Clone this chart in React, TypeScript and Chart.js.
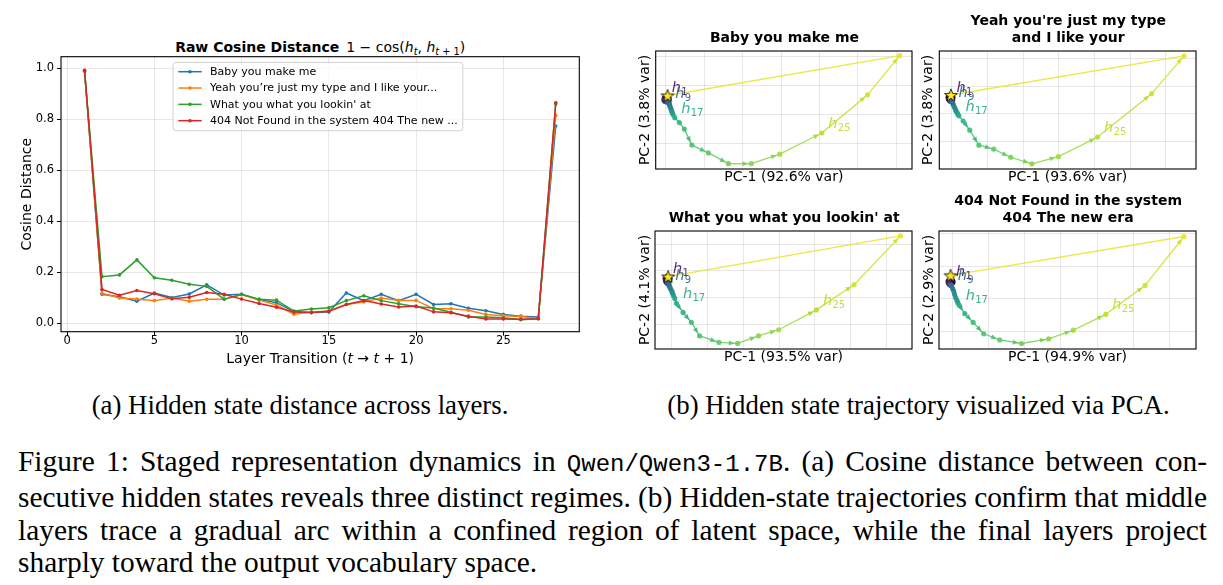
import React, { useEffect, useLayoutEffect, useRef } from "react";
import { Chart, registerables } from "chart.js";

Chart.register(...registerables);

const SANS = '"DejaVu Sans", sans-serif';
const SERIF = '"Liberation Serif", "Times New Roman", serif';
const MONO = '"Liberation Mono", "DejaVu Sans Mono", monospace';

Chart.defaults.font.family = SANS;
Chart.defaults.color = "#000";

// ---------------- (a) cosine distance between consecutive layers ----------------
const layerTransitions = [1, 2, 3, 4, 5, 6, 7, 8, 9, 10, 11, 12, 13, 14, 15, 16, 17, 18, 19, 20, 21, 22, 23, 24, 25, 26, 27, 28];
const distXTicks = [0, 5, 10, 15, 20, 25];
const distYTicks = [0, 0.2, 0.4, 0.6, 0.8, 1.0];

const seriesNames = [
  "Baby you make me",
  "Yeah you\u2019re just my type and I like your...",
  "What you what you lookin' at",
  "404 Not Found in the system 404 The new ...",
];
const seriesColors = ["#1f77b4", "#ff7f0e", "#2ca02c", "#d62728"];

const babyDistance = [0.99, 0.113, 0.103, 0.086, 0.118, 0.1, 0.114, 0.15, 0.11, 0.113, 0.093, 0.08, 0.045, 0.041, 0.043, 0.118, 0.088, 0.113, 0.088, 0.113, 0.073, 0.076, 0.058, 0.048, 0.034, 0.027, 0.024, 0.774];
const yeahDistance = [0.99, 0.117, 0.098, 0.094, 0.088, 0.098, 0.086, 0.093, 0.093, 0.111, 0.09, 0.071, 0.035, 0.043, 0.047, 0.073, 0.083, 0.098, 0.089, 0.089, 0.056, 0.056, 0.05, 0.034, 0.029, 0.026, 0.018, 0.815];
const whatDistance = [0.99, 0.182, 0.189, 0.248, 0.178, 0.168, 0.152, 0.144, 0.094, 0.113, 0.093, 0.09, 0.047, 0.055, 0.06, 0.088, 0.107, 0.088, 0.076, 0.064, 0.059, 0.042, 0.024, 0.024, 0.021, 0.013, 0.017, 0.86];
const notFoundDistance = [0.993, 0.132, 0.109, 0.128, 0.115, 0.095, 0.101, 0.12, 0.113, 0.094, 0.077, 0.062, 0.043, 0.041, 0.046, 0.073, 0.088, 0.075, 0.063, 0.067, 0.044, 0.04, 0.027, 0.016, 0.016, 0.015, 0.017, 0.865];

// ---------------- (b) PCA trajectories of hidden states h0 ... h28 ----------------
const labelledLayers = [1, 9, 17, 25];
const pcGridX = [-20, 0, 20, 40, 60, 80, 100];
const pcGridY = [-5, 0, 5, 10];

const babyPc1 = [-19.5, -20.2, -20.5, -20.9, -20.7, -20.3, -19.8, -19.3, -18.8, -18.4, -18.1, -17.9, -17.6, -17.2, -16.9, -16.6, -16.2, -15.3, -12.9, -10.3, -6.4, 2.2, 12.6, 24.5, 39.3, 61.2, 85.0, 101.7, -19.0];
const babyPc2 = [2.72, 2.94, 2.66, 2.49, 2.38, 2.26, 2.21, 2.15, 2.09, 1.98, 1.81, 1.53, 1.25, 0.91, 0.57, 0.28, 0.0, -0.57, -1.42, -2.55, -5.32, -6.68, -8.55, -8.55, -6.9, -3.23, 3.4, 10.19, 3.28];

const yeahPc1 = [-20.7, -21.0, -21.4, -21.6, -21.4, -21.0, -20.7, -20.3, -20.1, -19.9, -19.5, -19.0, -18.6, -18.0, -17.7, -17.1, -16.7, -16.0, -13.6, -9.9, -4.8, 3.5, 13.0, 24.9, 39.8, 61.8, 92.1, 110.3, -20.5];
const yeahPc2 = [2.94, 3.06, 2.76, 2.59, 2.47, 2.35, 2.29, 2.35, 2.24, 2.18, 1.94, 1.59, 1.24, 0.88, 0.59, 0.24, 0.0, -0.35, -1.29, -2.94, -5.65, -6.35, -7.82, -9.0, -7.71, -4.18, 3.65, 10.47, 3.41];

const whatPc1 = [-21.9, -22.5, -22.9, -23.0, -22.9, -22.5, -22.1, -21.8, -21.4, -21.2, -21.0, -20.6, -20.1, -19.5, -19.2, -18.6, -17.9, -17.0, -13.3, -8.7, -4.1, 6.6, 17.0, 28.6, 39.8, 60.8, 81.7, 107.5, -21.6];
const whatPc2 = [3.52, 3.77, 3.46, 3.22, 3.04, 2.86, 2.73, 2.67, 2.55, 2.43, 2.25, 1.94, 1.58, 1.22, 0.85, 0.43, -0.12, -1.03, -2.73, -4.56, -7.11, -8.32, -8.51, -7.11, -5.95, -2.25, 2.43, 11.54, 3.95];

const notFoundPc1 = [-21.1, -21.7, -22.0, -22.2, -22.0, -21.7, -21.3, -21.1, -20.9, -20.7, -20.6, -20.0, -19.4, -18.9, -18.3, -17.6, -17.1, -16.3, -13.2, -8.6, -2.8, 6.1, 18.2, 33.2, 46.8, 64.8, 86.5, 108.1, -21.1];
const notFoundPc2 = [2.6, 2.8, 2.6, 2.45, 2.3, 2.2, 2.15, 2.1, 2.05, 2.05, 2.0, 1.6, 1.2, 0.7, 0.2, -0.25, -0.6, -1.0, -2.3, -3.65, -5.4, -6.35, -6.9, -6.2, -4.85, -2.4, 2.05, 9.6, 3.6];

const panelTitles = [
  ["Baby you make me"],
  ["Yeah you're just my type", "and I like your"],
  ["What you what you lookin' at"],
  ["404 Not Found in the system", "404 The new era"],
];
const pc1Labels = ["PC-1 (92.6% var)", "PC-1 (93.6% var)", "PC-1 (93.5% var)", "PC-1 (94.9% var)"];
const pc2Labels = ["PC-2 (3.8% var)", "PC-2 (3.8% var)", "PC-2 (4.1% var)", "PC-2 (2.9% var)"];
const pcSeries = [
  [babyPc1, babyPc2],
  [yeahPc1, yeahPc2],
  [whatPc1, whatPc2],
  [notFoundPc1, notFoundPc2],
];
const pcRanges = [
  { xMin: -25.2, xMax: 108.1, yMin: -9.47, yMax: 11.0 },
  { xMin: -27.0, xMax: 117.0, yMin: -9.94, yMax: 11.35 },
  { xMin: -28.9, xMax: 113.9, yMin: -9.54, yMax: 12.45 },
  { xMin: -27.5, xMax: 114.7, yMin: -7.75, yMax: 10.45 },
];

// Page placement of each PCA panel's axes box (pixels)
const panelBoxes = [
  { ax0: 655.7, ax1: 913.3, ay0: 48.3, ay1: 169, yTitleX: 645, xTitleY: 177.7, titleCY: 37 },
  { ax0: 939.3, ax1: 1197.3, ay0: 48.3, ay1: 169, yTitleX: 928.8, xTitleY: 177.7, titleCY: 28.75 },
  { ax0: 655, ax1: 913.3, ay0: 228.3, ay1: 349, yTitleX: 645, xTitleY: 357.7, titleCY: 217 },
  { ax0: 939, ax1: 1197.3, ay0: 227.7, ay1: 349, yTitleX: 929, xTitleY: 357.7, titleCY: 208.75 },
];

// ---------------- colour helpers ----------------
const viridisStops = ["#440154", "#482475", "#414487", "#355f8d", "#2a788e", "#21918c", "#22a884", "#44bf70", "#7ad151", "#bddf26", "#fde725"];
function hexRgb(h: string) {
  return [parseInt(h.slice(1, 3), 16), parseInt(h.slice(3, 5), 16), parseInt(h.slice(5, 7), 16)];
}
function viridis(t: number, a = 1) {
  const s = Math.min(1, Math.max(0, t)) * 10;
  const i = Math.min(9, Math.floor(s));
  const f = s - i;
  const c0 = hexRgb(viridisStops[i]);
  const c1 = hexRgb(viridisStops[i + 1]);
  const c = c0.map((v, k) => Math.round(v + (c1[k] - v) * f));
  return `rgba(${c[0]},${c[1]},${c[2]},${a})`;
}

const GRID = "rgba(176,176,176,0.3)";

// ---------------- plugins ----------------
const axesFrame = {
  id: "axesFrame",
  beforeDatasetsDraw(chart: any) {
    const { ctx, chartArea: a } = chart;
    ctx.save();
    ctx.strokeStyle = "#000";
    ctx.lineWidth = 1.1;
    ctx.strokeRect(a.left, a.top, a.right - a.left, a.bottom - a.top);
    ctx.restore();
  },
};

const legendBox = {
  id: "legendBox",
  afterDatasetsDraw(chart: any) {
    const { ctx, chartArea } = chart;
    const x0 = chartArea.left + 112;
    const y0 = chartArea.top + 5.6;
    const rowH = 16.33;
    const items = chart.data.datasets;
    ctx.save();
    ctx.font = `11px ${SANS}`;
    const maxW = Math.max(...items.map((d: any) => ctx.measureText(d.label).width));
    const w = 37 + maxW + 5;
    const h = 9.4 + rowH * (items.length - 1) + 10;
    ctx.beginPath();
    ctx.roundRect(x0, y0, w, h, 3);
    ctx.fillStyle = "rgba(255,255,255,0.8)";
    ctx.fill();
    ctx.strokeStyle = "#d0d0d0";
    ctx.lineWidth = 1;
    ctx.stroke();
    items.forEach((d: any, i: number) => {
      const cy = y0 + 9.4 + i * rowH;
      ctx.strokeStyle = d.borderColor;
      ctx.lineWidth = 1.5;
      ctx.beginPath();
      ctx.moveTo(x0 + 5.3, cy);
      ctx.lineTo(x0 + 28.7, cy);
      ctx.stroke();
      ctx.fillStyle = d.borderColor;
      ctx.beginPath();
      ctx.arc(x0 + 17, cy, 1.8, 0, Math.PI * 2);
      ctx.fill();
      ctx.fillStyle = "#000";
      ctx.textBaseline = "middle";
      ctx.fillText(d.label, x0 + 37, cy + 0.5);
    });
    ctx.restore();
  },
};

const arrowHeads = {
  id: "arrowHeads",
  afterDatasetsDraw(chart: any) {
    const pts = chart.getDatasetMeta(0).data;
    const last = pts.length - 1;
    const ctx = chart.ctx;
    ctx.save();
    for (let i = 0; i < last - 1; i++) {
      const a = pts[i];
      const b = pts[i + 1];
      const dx = b.x - a.x;
      const dy = b.y - a.y;
      const L = Math.hypot(dx, dy);
      if (L < 9) continue;
      const ux = dx / L;
      const uy = dy / L;
      const tx = b.x - ux * 3.3;
      const ty = b.y - uy * 3.3;
      const bx = tx - ux * 5.5;
      const by = ty - uy * 5.5;
      ctx.fillStyle = viridis(i / last, 0.9);
      ctx.beginPath();
      ctx.moveTo(tx, ty);
      ctx.lineTo(bx - uy * 2.5, by + ux * 2.5);
      ctx.lineTo(bx + uy * 2.5, by - ux * 2.5);
      ctx.closePath();
      ctx.fill();
    }
    ctx.restore();
  },
};

const layerTags = {
  id: "layerTags",
  afterDatasetsDraw(chart: any) {
    const pts = chart.getDatasetMeta(0).data;
    const last = pts.length - 1;
    const ctx = chart.ctx;
    ctx.save();
    ctx.textBaseline = "alphabetic";
    labelledLayers.forEach((idx) => {
      const p = pts[idx];
      const x = p.x + 6.5;
      const y = p.y - 5;
      ctx.fillStyle = viridis(idx / last, 0.9);
      ctx.font = `italic 14.5px ${SANS}`;
      ctx.fillText("h", x, y);
      const w = ctx.measureText("h").width;
      ctx.font = `10px ${SANS}`;
      ctx.fillText(String(idx), x + w + 0.3, y + 3);
    });
    ctx.restore();
  },
};

function makeStar() {
  const c = document.createElement("canvas");
  c.width = 16;
  c.height = 16;
  const g = c.getContext("2d")!;
  g.beginPath();
  for (let k = 0; k < 10; k++) {
    const r = k % 2 === 0 ? 6.8 : 2.8;
    const ang = -Math.PI / 2 + (k * Math.PI) / 5;
    const px = 8 + r * Math.cos(ang);
    const py = 8.6 + r * Math.sin(ang);
    if (k === 0) g.moveTo(px, py);
    else g.lineTo(px, py);
  }
  g.closePath();
  g.fillStyle = "#fde725";
  g.fill();
  g.strokeStyle = "#000";
  g.lineWidth = 0.8;
  g.stroke();
  return c;
}

// ---------------- chart configs ----------------
function distanceConfig() {
  const series = [babyDistance, yeahDistance, whatDistance, notFoundDistance];
  return {
    type: "line",
    data: {
      datasets: series.map((vals, i) => ({
        label: seriesNames[i],
        data: vals.map((v, k) => ({ x: layerTransitions[k], y: v })),
        borderColor: seriesColors[i],
        backgroundColor: seriesColors[i],
        borderWidth: 1.5,
        pointRadius: 1.8,
        pointBorderWidth: 0,
        pointBackgroundColor: seriesColors[i],
        tension: 0,
        order: 3 - i,
      })),
    },
    options: {
      animation: false,
      responsive: false,
      devicePixelRatio: 1,
      events: [],
      layout: { padding: { left: 0, top: 56.7, right: 20.7, bottom: 0 } },
      plugins: { legend: { display: false }, tooltip: { enabled: false } },
      scales: {
        x: {
          type: "linear",
          min: -0.35,
          max: 29.35,
          afterBuildTicks: (s: any) => {
            s.ticks = distXTicks.map((value) => ({ value }));
          },
          afterFit: (s: any) => {
            s.height = 40.3;
          },
          ticks: { font: { size: 11.5, lineHeight: 1 }, color: "#000", padding: 0, maxRotation: 0, autoSkip: false, callback: (v: number) => String(v) },
          grid: { color: GRID, tickColor: "#000", tickLength: 4, drawTicks: true },
          border: { display: false },
        },
        y: {
          min: -0.034,
          max: 1.046,
          afterBuildTicks: (s: any) => {
            s.ticks = distYTicks.map((value) => ({ value }));
          },
          afterFit: (s: any) => {
            s.width = 61;
          },
          ticks: { font: { size: 11.5 }, color: "#000", padding: 3, callback: (v: number) => v.toFixed(1) },
          grid: { color: GRID, tickColor: "#000", tickLength: 4, drawTicks: true },
          border: { display: false },
          title: { display: true, text: "Cosine Distance", color: "#000", font: { size: 14, lineHeight: 1.2 }, padding: { top: 19.1, bottom: 0 } },
        },
      },
    },
    plugins: [axesFrame, legendBox],
  };
}

function pcaConfig(p: number, geom: any) {
  const [pc1, pc2] = pcSeries[p];
  const range = pcRanges[p];
  const last = pc1.length - 1;
  const star = makeStar();
  const pts = pc1.map((x, i) => ({ x, y: pc2[i] }));
  return {
    type: "scatter",
    data: {
      datasets: [
        {
          data: pts,
          showLine: true,
          borderWidth: 1.3,
          borderColor: viridis(0.5, 0.85),
          segment: { borderColor: (c: any) => viridis(c.p0DataIndex / last, 0.85) },
          pointStyle: pts.map((_, i) => (i === last ? star : "circle")),
          pointRadius: pts.map((_, i) => (i === 0 ? 4.6 : i === last ? 7 : 2.6)),
          pointBackgroundColor: pts.map((_, i) => viridis(i / last, i === 0 ? 1 : 0.88)),
          pointBorderColor: pts.map((_, i) => (i === 0 ? "#000" : "rgba(0,0,0,0)")),
          pointBorderWidth: pts.map((_, i) => (i === 0 ? 0.8 : 0)),
          clip: false,
        },
      ],
    },
    options: {
      animation: false,
      responsive: false,
      devicePixelRatio: 1,
      events: [],
      layout: { padding: geom.padding },
      plugins: { legend: { display: false }, tooltip: { enabled: false } },
      scales: {
        x: {
          type: "linear",
          min: range.xMin,
          max: range.xMax,
          afterBuildTicks: (s: any) => {
            s.ticks = pcGridX.map((value) => ({ value }));
          },
          afterFit: (s: any) => {
            s.height = geom.xAxisH;
          },
          ticks: { display: false },
          grid: { color: GRID, drawTicks: false },
          border: { display: false },
          title: { display: true, text: pc1Labels[p], color: "#000", font: { size: 14, lineHeight: 1.2 }, padding: 0 },
        },
        y: {
          min: range.yMin,
          max: range.yMax,
          afterBuildTicks: (s: any) => {
            s.ticks = pcGridY.map((value) => ({ value }));
          },
          afterFit: (s: any) => {
            s.width = geom.yAxisW;
          },
          ticks: { display: false },
          grid: { color: GRID, drawTicks: false },
          border: { display: false },
          title: { display: true, text: pc2Labels[p], color: "#000", font: { size: 14, lineHeight: 1.2 }, padding: 0 },
        },
      },
    },
    plugins: [axesFrame, arrowHeads, layerTags],
  };
}

function panelGeometry(b: any) {
  const left = Math.round(b.yTitleX - 8.4);
  const top = Math.round(b.ay0 - 4);
  const right = Math.round(b.ax1 + 6);
  const bottom = Math.round(b.xTitleY + 8.4);
  return {
    left,
    top,
    width: right - left,
    height: bottom - top,
    padding: { left: 0, top: b.ay0 - top, right: right - b.ax1, bottom: 0 },
    yAxisW: b.ax0 - left,
    xAxisH: bottom - b.ay1,
  };
}

function ChartCanvas({ left, top, width, height, build }: any) {
  const ref = useRef<HTMLCanvasElement>(null);
  useEffect(() => {
    const chart = new Chart(ref.current as HTMLCanvasElement, build() as any);
    return () => chart.destroy();
  }, []);
  return <canvas ref={ref} width={width} height={height} style={{ position: "absolute", left, top, width, height }} />;
}

const Sub = ({ children }: any) => (
  <span style={{ fontSize: "0.7em", position: "relative", top: "0.3em" }}>{children}</span>
);

const captionLines = [
  ["Figure 1: Staged representation dynamics in ", "Qwen/Qwen3-1.7B", ". (a) Cosine distance between con-"],
  ["secutive hidden states reveals three distinct regimes. (b) Hidden-state trajectories confirm that middle"],
  ["layers trace a gradual arc within a confined region of latent space, while the final layers project"],
  ["sharply toward the output vocabulary space."],
];
const CAPTION_WIDTH = 1189;

// One caption line, spread to the full measure by adjusting the word spacing
function CaptionLine({ parts, justify }: any) {
  const ref = useRef<HTMLSpanElement>(null);
  useLayoutEffect(() => {
    const el = ref.current;
    if (!el || !justify) return;
    el.style.wordSpacing = "0px";
    const natural = el.getBoundingClientRect().width;
    const gaps = (el.textContent || "").split(" ").length - 1;
    if (gaps > 0) el.style.wordSpacing = `${(CAPTION_WIDTH - natural) / gaps}px`;
  }, []);
  return (
    <div style={{ whiteSpace: "nowrap" }}>
      <span ref={ref}>
        {parts.length === 3 ? (
          <>
            {parts[0]}
            <span style={{ fontFamily: MONO, fontSize: 24 }}>{parts[1]}</span>
            {parts[2]}
          </>
        ) : (
          parts[0]
        )}
      </span>
    </div>
  );
}

export default function App() {
  return (
    <div style={{ position: "absolute", left: 0, top: 0, width: 1223, height: 585, background: "#fff", overflow: "hidden" }}>
      {/* (a) line chart */}
      <div style={{ position: "absolute", left: 0, top: 38, width: 640.4, textAlign: "center", fontFamily: SANS, fontSize: 14, lineHeight: "18px", whiteSpace: "nowrap" }}>
        <b>Raw Cosine Distance</b>
        {"\u2002"}1 − cos(<i>h</i>
        <Sub>
          <i>t</i>
        </Sub>
        , <i>h</i>
        <Sub>
          <i>t</i> + 1
        </Sub>
        )
      </div>
      <ChartCanvas left={0} top={0} width={600} height={372} build={distanceConfig} />
      <div style={{ position: "absolute", left: 0, top: 349, width: 640.4, textAlign: "center", fontFamily: SANS, fontSize: 14, lineHeight: "18px", whiteSpace: "nowrap" }}>
        Layer Transition (<i>t</i> → <i>t</i> + 1)
      </div>

      {/* (b) PCA panels */}
      {panelBoxes.map((b, p) => {
        const g = panelGeometry(b);
        const lines = panelTitles[p];
        return (
          <React.Fragment key={p}>
            <ChartCanvas left={g.left} top={g.top} width={g.width} height={g.height} build={() => pcaConfig(p, g)} />
            <div
              style={{
                position: "absolute",
                left: (b.ax0 + b.ax1) / 2 - 160,
                width: 320,
                top: b.titleCY - (lines.length * 16.5) / 2,
                textAlign: "center",
                fontFamily: SANS,
                fontWeight: "bold",
                fontSize: 14,
                lineHeight: "16.5px",
                whiteSpace: "nowrap",
              }}
            >
              {lines.map((t, i) => (
                <div key={i}>{t}</div>
              ))}
            </div>
          </React.Fragment>
        );
      })}

      {/* sub-captions */}
      <div style={{ position: "absolute", left: 0, top: 389, width: 600, textAlign: "center", fontFamily: SERIF, fontSize: 26.8, lineHeight: "32px", whiteSpace: "nowrap" }}>
        (a) Hidden state distance across layers.
      </div>
      <div style={{ position: "absolute", left: 618.5, top: 389, width: 600, textAlign: "center", fontFamily: SERIF, fontSize: 26.8, lineHeight: "32px", whiteSpace: "nowrap" }}>
        (b) Hidden state trajectory visualized via PCA.
      </div>

      {/* figure caption */}
      <div style={{ position: "absolute", left: 18, top: 444.8, width: CAPTION_WIDTH, fontFamily: SERIF, fontSize: 29.4, lineHeight: "32.4px" }}>
        {captionLines.map((parts, i) => (
          <CaptionLine key={i} parts={parts} justify={i < captionLines.length - 1} />
        ))}
      </div>
    </div>
  );
}
